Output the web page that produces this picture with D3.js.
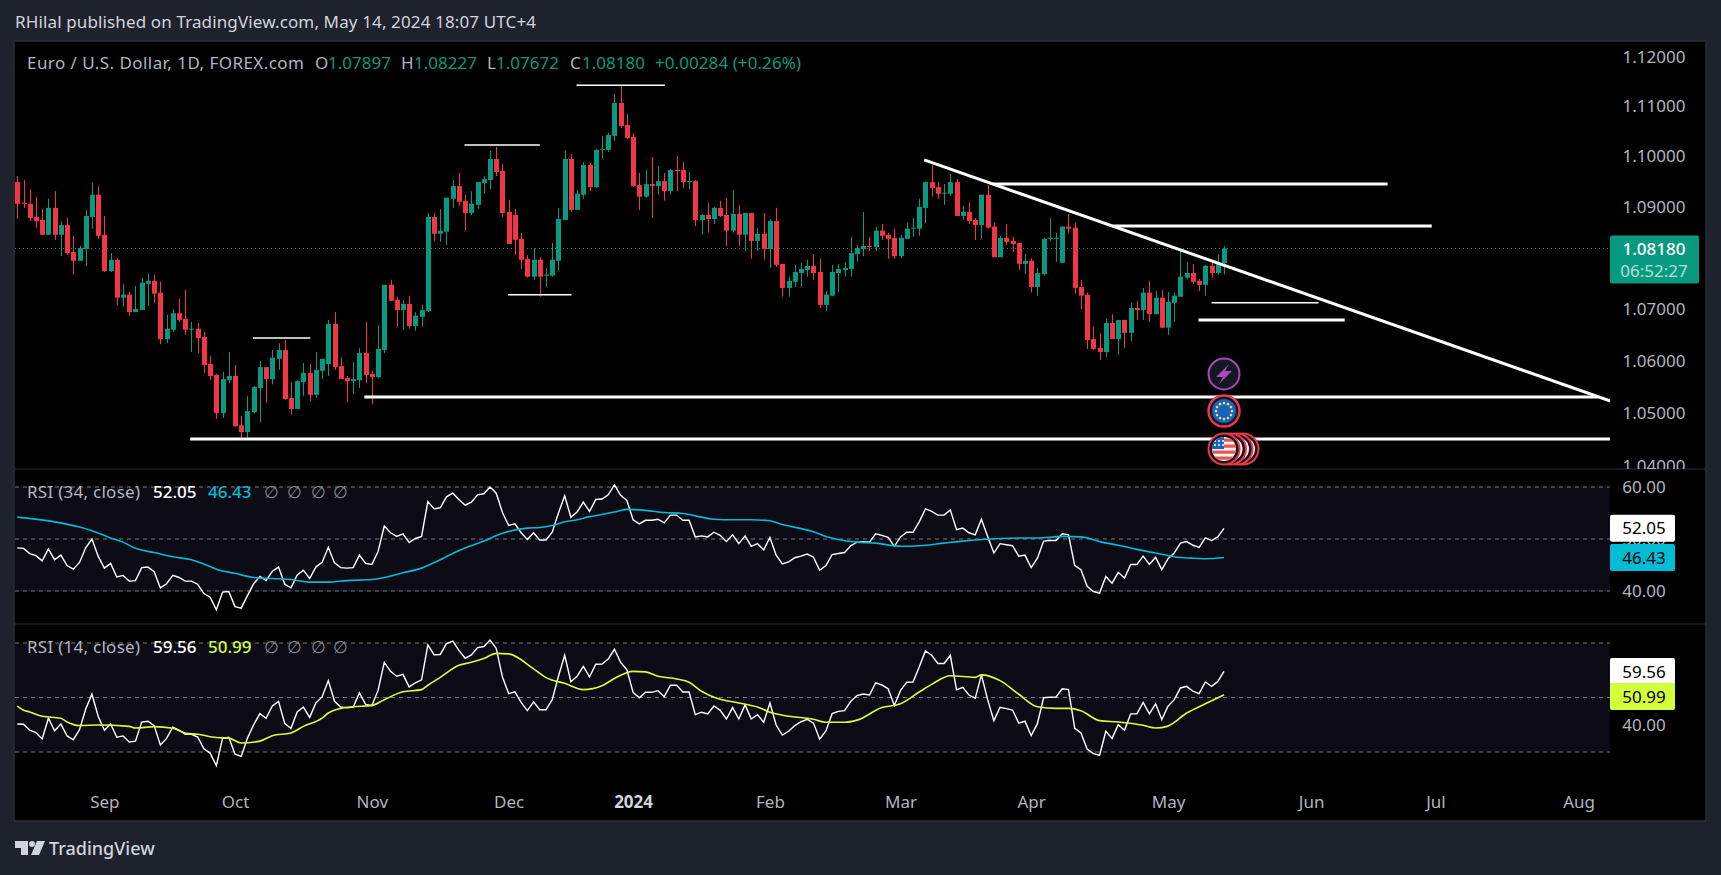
<!DOCTYPE html>
<html>
<head>
<meta charset="utf-8">
<title>EUR/USD 1D</title>
<script src="https://cdn.jsdelivr.net/npm/d3@7"></script>
<style>
  html, body { margin: 0; padding: 0; background: #1e222d; overflow: hidden; }
  text { font-family: "Noto Sans", sans-serif; }
</style>
</head>
<body>
<div id="plt"></div>
<script>
// daily candles, one value per bar
var opens = [
1.0949,1.0908,1.0906,1.0880,1.0874,1.0845,1.0898,1.0845,1.0864,1.0811,
1.0794,1.0817,1.0880,1.0924,1.0845,1.0774,1.0796,1.0722,1.0728,1.0694,
1.0698,1.0749,1.0755,1.0732,1.0642,1.0660,1.0692,1.0681,1.0660,1.0662,
1.0646,1.0594,1.0573,1.0500,1.0563,1.0571,1.0477,1.0464,1.0502,1.0548,
1.0588,1.0565,1.0604,1.0621,1.0529,1.0508,1.0559,1.0577,1.0535,1.0581,
1.0594,1.0671,1.0590,1.0567,1.0561,1.0563,1.0615,1.0575,1.0569,1.0621,
1.0747,1.0718,1.0698,1.0710,1.0667,1.0685,1.0696,1.0880,1.0847,1.0851,
1.0916,1.0941,1.0912,1.0888,1.0904,1.0947,1.0953,1.0995,1.0971,1.0890,
1.0884,1.0837,1.0798,1.0763,1.0796,1.0765,1.0765,1.0794,1.0874,1.0995,
1.0894,1.0924,1.0983,1.0939,1.1013,1.1013,1.1041,1.1107,1.1063,1.1039,
1.0943,1.0920,1.0945,1.0941,1.0951,1.0931,1.0973,1.0973,1.0949,1.0951,
1.0874,1.0884,1.0876,1.0898,1.0884,1.0853,1.0886,1.0845,1.0888,1.0833,
1.0847,1.0817,1.0872,1.0788,1.0741,1.0753,1.0770,1.0776,1.0784,1.0772,
1.0708,1.0726,1.0770,1.0776,1.0778,1.0807,1.0817,1.0823,1.0821,1.0853,
1.0845,1.0839,1.0803,1.0837,1.0857,1.0857,1.0898,1.0949,1.0939,1.0926,
1.0926,1.0949,1.0882,1.0890,1.0874,1.0864,1.0924,1.0861,1.0801,1.0839,
1.0833,1.0829,1.0788,1.0794,1.0743,1.0768,1.0837,1.0837,1.0790,1.0861,
1.0859,1.0743,1.0728,1.0642,1.0625,1.0617,1.0673,1.0642,1.0679,1.0654,
1.0702,1.0698,1.0732,1.0690,1.0722,1.0664,1.0712,1.0724,1.0761,1.0770,
1.0755,1.0747,1.0784,1.0770,1.07897];
var highs = [
1.0961,1.0953,1.0935,1.0920,1.0896,1.0916,1.0931,1.0872,1.0878,1.0843,
1.0823,1.0894,1.0947,1.0941,1.0882,1.0809,1.0799,1.0749,1.0733,1.0745,
1.0761,1.0770,1.0767,1.0753,1.0689,1.0700,1.0720,1.0737,1.0675,1.0673,
1.0656,1.0609,1.0575,1.0579,1.0617,1.0592,1.0495,1.0533,1.0552,1.0600,
1.0588,1.0621,1.0634,1.0640,1.0559,1.0563,1.0596,1.0594,1.0617,1.0604,
1.0679,1.0694,1.0607,1.0571,1.0598,1.0625,1.0675,1.0581,1.0669,1.0747,
1.0757,1.0724,1.0718,1.0726,1.0694,1.0708,1.0888,1.0888,1.0896,1.0918,
1.0953,1.0967,1.0924,1.0931,1.0949,1.0961,1.1011,1.1019,1.0985,1.0914,
1.0896,1.0849,1.0805,1.0819,1.0801,1.0780,1.0829,1.0898,1.1011,1.1005,
1.0933,1.0989,1.0987,1.1015,1.1041,1.1047,1.1125,1.1141,1.1085,1.1047,
1.0967,1.0973,1.0999,1.0981,1.0967,1.0975,1.1001,1.0989,1.0969,1.0953,
1.0886,1.0908,1.0900,1.0912,1.0918,1.0933,1.0904,1.0888,1.0888,1.0859,
1.0888,1.0876,1.0898,1.0788,1.0763,1.0786,1.0790,1.0796,1.0807,1.0799,
1.0735,1.0786,1.0788,1.0790,1.0841,1.0825,1.0890,1.0841,1.0861,1.0866,
1.0849,1.0857,1.0845,1.0868,1.0878,1.0916,1.0951,1.0983,1.0949,1.0945,
1.0965,1.0955,1.0902,1.0908,1.0878,1.0924,1.0943,1.0868,1.0843,1.0866,
1.0841,1.0829,1.0807,1.0799,1.0780,1.0839,1.0878,1.0849,1.0862,1.0886,
1.0868,1.0757,1.0732,1.0666,1.0654,1.0681,1.0690,1.0679,1.0679,1.0712,
1.0716,1.0741,1.0755,1.0735,1.0737,1.0733,1.0732,1.0813,1.0792,1.0788,
1.0759,1.0786,1.0792,1.0807,1.08227];
var lows = [
1.0876,1.0898,1.0872,1.0859,1.0845,1.0845,1.0835,1.0803,1.0805,1.0767,
1.0794,1.0784,1.0857,1.0837,1.0772,1.0772,1.0708,1.0704,1.0687,1.0694,
1.0698,1.0706,1.0712,1.0632,1.0634,1.0656,1.0675,1.0650,1.0617,1.0615,
1.0577,1.0563,1.0489,1.0491,1.0557,1.0475,1.0449,1.0451,1.0500,1.0483,
1.0519,1.0555,1.0583,1.0525,1.0497,1.0508,1.0533,1.0523,1.0529,1.0565,
1.0571,1.0583,1.0565,1.0521,1.0537,1.0548,1.0557,1.0517,1.0567,1.0615,
1.0716,1.0666,1.0660,1.0662,1.0658,1.0666,1.0694,1.0833,1.0831,1.0825,
1.0898,1.0902,1.0853,1.0884,1.0896,1.0926,1.0935,1.0961,1.0880,1.0827,
1.0805,1.0778,1.0761,1.0757,1.0724,1.0743,1.0763,1.0774,1.0874,1.0890,
1.0894,1.0916,1.0931,1.0937,1.0995,1.1009,1.1031,1.1057,1.1035,1.0939,
1.0894,1.0918,1.0878,1.0924,1.0912,1.0924,1.0931,1.0937,1.0935,1.0862,
1.0845,1.0849,1.0866,1.0880,1.0823,1.0849,1.0823,1.0813,1.0798,1.0813,
1.0796,1.0780,1.0782,1.0724,1.0724,1.0743,1.0743,1.0763,1.0757,1.0702,
1.0696,1.0726,1.0733,1.0763,1.0763,1.0792,1.0803,1.0813,1.0813,1.0835,
1.0798,1.0798,1.0799,1.0837,1.0841,1.0843,1.0868,1.0920,1.0916,1.0904,
1.0922,1.0882,1.0874,1.0866,1.0835,1.0837,1.0857,1.0801,1.0801,1.0825,
1.0811,1.0776,1.0768,1.0732,1.0726,1.0765,1.0833,1.0792,1.0790,1.0849,
1.0730,1.0700,1.0623,1.0621,1.0602,1.0607,1.0642,1.0611,1.0625,1.0638,
1.0679,1.0679,1.0675,1.0690,1.0664,1.0650,1.0675,1.0724,1.0757,1.0749,
1.0735,1.0726,1.0761,1.0767,1.07672];
var closes = [
1.0906,1.0906,1.0878,1.0872,1.0845,1.0898,1.0845,1.0864,1.0809,1.0794,
1.0819,1.0882,1.0924,1.0843,1.0774,1.0796,1.0722,1.0728,1.0694,1.0700,
1.0751,1.0755,1.0730,1.0642,1.0662,1.0692,1.0679,1.0660,1.0662,1.0644,
1.0592,1.0571,1.0500,1.0565,1.0571,1.0475,1.0464,1.0504,1.0550,1.0588,
1.0565,1.0606,1.0621,1.0527,1.0508,1.0561,1.0577,1.0535,1.0583,1.0604,
1.0671,1.0588,1.0565,1.0561,1.0565,1.0615,1.0573,1.0569,1.0623,1.0747,
1.0716,1.0698,1.0710,1.0667,1.0687,1.0698,1.0880,1.0847,1.0853,1.0918,
1.0941,1.0910,1.0888,1.0906,1.0949,1.0955,1.0995,1.0969,1.0888,1.0827,
1.0835,1.0796,1.0763,1.0796,1.0763,1.0767,1.0796,1.0876,1.0995,1.0894,
1.0926,1.0983,1.0939,1.1013,1.1015,1.1043,1.1107,1.1061,1.1037,1.0941,
1.0920,1.0945,1.0941,1.0951,1.0931,1.0973,1.0971,1.0949,1.0951,1.0874,
1.0884,1.0876,1.0898,1.0882,1.0853,1.0886,1.0845,1.0888,1.0833,1.0847,
1.0817,1.0872,1.0786,1.0741,1.0755,1.0772,1.0778,1.0784,1.0770,1.0708,
1.0728,1.0772,1.0778,1.0780,1.0809,1.0819,1.0823,1.0821,1.0853,1.0843,
1.0837,1.0803,1.0839,1.0857,1.0859,1.0900,1.0949,1.0937,1.0926,1.0928,
1.0949,1.0882,1.0890,1.0872,1.0864,1.0924,1.0859,1.0801,1.0839,1.0831,
1.0827,1.0788,1.0794,1.0743,1.0770,1.0837,1.0839,1.0839,1.0861,1.0857,
1.0741,1.0726,1.0640,1.0623,1.0617,1.0673,1.0642,1.0679,1.0654,1.0702,
1.0698,1.0732,1.0690,1.0722,1.0664,1.0714,1.0726,1.0763,1.0770,1.0753,
1.0747,1.0784,1.0770,1.0790,1.08180];

// RSI (34) and its average
var rsi34 = [
48.3,48.2,47.2,46.8,45.8,48.1,46.0,46.9,44.9,44.2,
45.5,48.3,50.0,46.7,44.4,45.3,42.7,43.0,41.9,42.0,
44.5,44.6,43.7,40.6,41.4,43.0,42.6,41.9,41.9,41.3,
39.5,38.8,36.4,39.8,39.9,37.0,36.7,39.1,41.4,42.8,
42.0,43.8,44.6,41.3,40.6,43.1,44.0,42.4,44.6,45.5,
48.4,45.4,44.5,44.4,44.5,46.9,45.3,45.1,47.6,52.5,
51.2,50.5,51.0,49.3,50.1,50.5,57.2,55.8,56.0,58.1,
58.8,57.6,56.5,57.1,58.5,58.7,60.0,58.8,55.1,52.6,
52.9,51.2,49.9,51.2,49.8,49.8,51.3,55.0,58.3,54.2,
55.2,57.1,55.3,57.6,57.7,58.5,60.4,58.4,57.4,53.7,
52.9,53.6,53.6,53.8,53.1,54.6,54.6,53.6,53.6,50.4,
50.6,50.4,51.3,50.7,49.5,50.8,49.1,50.6,48.6,49.1,
47.9,50.3,46.9,45.2,45.6,46.4,46.7,47.1,46.5,44.0,
44.9,47.0,47.2,47.4,48.7,49.4,49.5,49.4,51.0,50.7,
50.3,48.6,50.4,51.3,51.3,53.3,55.8,55.3,54.6,54.6,
55.6,51.8,52.1,51.2,50.8,53.8,50.5,47.3,49.1,48.9,
48.7,46.7,46.9,44.5,46.3,49.6,49.7,49.7,51.0,50.8,
44.9,44.1,40.9,39.9,39.6,42.8,41.5,43.6,42.5,45.1,
45.1,46.7,45.1,46.5,44.1,46.2,47.3,49.2,49.5,48.8,
48.4,50.2,49.7,50.4,52.05];
var rsi34MaBars = [0,6,10,12,15,17,19,22,25,28,30,32,35,38,41,44,47,50,53,57,59,62,65,68,71,75,78,82,84,86,88,90,92,94,96,98,101,104,107,110,112,115,118,121,123,126,128,130,132,135,138,142,145,149,152,155,158,161,164,168,171,174,177,180,183,186,189,191,194];
var rsi34Ma = [54.2,53.3,52.3,51.6,50.2,49.4,48.2,47.4,46.6,46.0,45.2,44.2,43.4,42.6,42.4,42.2,41.7,41.7,42.0,42.2,42.6,43.5,44.4,46.0,47.8,49.6,51.1,52.1,52.2,52.6,53.3,53.7,54.3,54.7,55.2,55.7,55.5,55.1,54.9,54.2,53.8,53.7,53.7,53.5,52.8,52.0,51.4,50.5,49.9,49.4,49.2,48.6,48.7,49.2,49.6,49.9,50.1,50.2,50.2,50.5,50.4,49.5,48.8,48.0,47.3,46.6,46.3,46.2,46.43];

// RSI (14) and its average
var rsi14 = [
40.3,40.2,38.0,37.1,34.8,42.4,37.8,40.3,35.9,34.5,
38.2,45.8,51.2,43.1,38.0,40.3,35.4,35.9,33.7,34.0,
41.0,41.3,39.7,32.6,35.0,39.1,38.0,36.5,36.5,35.5,
31.2,29.6,25.0,35.0,35.4,29.2,28.4,35.1,40.0,44.1,
42.4,46.9,48.6,40.4,38.7,44.7,46.5,42.7,48.0,50.2,
56.2,48.6,46.5,46.2,46.5,51.7,47.5,47.0,52.6,62.9,
59.6,57.8,58.5,53.9,55.4,56.5,69.3,65.7,65.8,69.8,
70.7,67.3,64.4,65.6,68.3,68.7,71.1,68.0,57.5,51.4,
52.1,48.2,45.2,48.4,45.5,45.5,49.2,57.8,65.5,55.8,
57.8,61.4,57.6,62.2,62.3,64.1,67.7,62.9,60.2,51.9,
49.9,51.9,51.9,52.5,50.3,54.5,54.5,52.0,52.0,43.7,
44.6,44.0,46.9,45.3,42.1,46.3,42.1,47.3,42.1,43.7,
40.9,48.0,39.9,36.2,37.6,39.7,41.1,42.0,40.6,34.7,
37.7,44.1,44.9,45.2,48.6,50.7,51.3,50.9,55.4,54.6,
53.2,47.1,52.6,55.6,55.7,61.2,67.1,65.5,62.5,62.5,
65.5,52.8,53.7,50.9,49.7,58.3,49.2,41.5,46.4,45.9,
45.4,40.6,41.3,36.0,40.4,49.9,50.1,50.2,53.2,52.9,
38.7,37.0,31.1,29.4,28.8,37.6,35.0,40.0,38.0,44.0,
44.0,48.2,44.0,47.7,41.9,46.8,49.2,53.5,54.1,52.3,
51.4,55.7,54.1,55.9,59.56];
var rsi14MaBars = [0,1,2,4,7,8,10,13,18,19,22,25,27,29,32,34,36,39,41,44,46,49,50,52,54,57,59,62,65,66,68,71,73,75,77,79,83,85,88,91,94,96,99,101,103,106,108,110,112,116,119,121,123,128,130,133,135,139,142,145,147,150,154,155,158,161,164,167,169,171,174,177,181,183,185,188,191,194];
var rsi14Ma = [46.8,45.3,44.7,43.1,42.4,41.0,39.7,39.9,39.4,38.8,39.3,38.7,37.0,36.5,35.3,35.1,33.3,34.0,36.0,37.0,39.4,42.4,44.3,46.0,46.6,47.1,49.2,52.1,52.9,54.5,57.4,61.8,62.9,64.3,66.2,66.0,60.5,57.3,55.2,52.9,54.3,57.0,59.6,59.4,57.8,56.8,55.6,52.3,50.1,48.0,46.5,44.6,43.5,42.0,40.9,40.9,41.7,46.3,47.7,52.0,54.8,58.0,57.4,58.3,56.2,51.2,46.6,46.0,46.0,45.1,41.5,41.0,39.8,38.8,39.5,44.3,47.7,50.99];

// hand drawn levels: bar where they start and stop, and price
var heavyFrom = [156.9,176.1,189.9,55.8,27.8];
var heavyTo = [220.3,227.4,213.4,254.2,256.2];
var heavyPrice = [1.0945,1.0862,1.0679,1.0531,1.0451];
var lightFrom = [37.9,71.9,89.9,78.9,192.0];
var lightTo = [47.1,84.0,104.1,89.1,209.2];
var lightPrice = [1.0644,1.1023,1.1143,1.0728,1.0712];
var trendBars = [145.8,256.2];
var trendPrices = [1.0993,1.0523];

// axis labels (the rest sit hidden behind the value boxes in the reference)
var priceTicks = [1.12,1.11,1.10,1.09,1.07,1.06,1.05,1.04];
var rsi34Ticks = [60,50,40];
var rsi14Ticks = [40];
var rsi34Bands = [60,50,40];
var rsi14Bands = [70,50,30];
var timeLabels = ["Sep","Oct","Nov","Dec","2024","Feb","Mar","Apr","May","Jun","Jul","Aug"];
var timeBars = [14,35,57,79,99,121,142,163,185,208,228,251];

// colours
var upColor = "#089981", downColor = "#f23645", axisColor = "#b2b5be",
    rsiMaColor = "#00bcd4", rsi14MaColor = "#d4ff3b", bandFill = "#0c0a15", lineColor = "#2a2e39";

// pane layout
var W = 1721, H = 875;
var frame = {left: 15, right: 1610, outer: 1706, top: 41, bottom: 821};
var lastBar = closes.length - 1;

var svg = d3.select("#plt")
            .append("svg")
            .attr("width", W)
            .attr("height", H)
            .style("display", "block");

svg.append("rect").attr("width", W).attr("height", H).attr("fill", "#1e222d");
svg.append("rect")
   .attr("x", 14).attr("y", 41).attr("width", frame.outer - 14).attr("height", frame.bottom - 41)
   .attr("fill", "#000").attr("stroke", lineColor).attr("stroke-width", 1.5);

svg.append("clipPath").attr("id", "mainClip").append("rect")
   .attr("x", frame.left).attr("y", frame.top).attr("width", frame.right - frame.left).attr("height", 428);
svg.append("clipPath").attr("id", "priceClip").append("rect")
   .attr("x", frame.right).attr("y", frame.top).attr("width", 96).attr("height", 428);

// scales
var x = d3.scaleLinear().domain([0, lastBar]).range([17.3, 1224]);
var y = d3.scaleLog().domain([1.04, 1.12]).range([466, 57]);
var yRsi34 = d3.scaleLinear().domain([40, 60]).range([591, 487]);
var yRsi14 = d3.scaleLinear().domain([30, 70]).range([752, 643]);

// pane separators
svg.selectAll("line.sep")
   .data([469, 624])
   .enter().append("line")
   .attr("x1", frame.left).attr("x2", frame.outer)
   .attr("y1", function(d) { return d; }).attr("y2", function(d) { return d; })
   .attr("stroke", lineColor).attr("stroke-width", 1);

// candles
var main = svg.append("g").attr("clip-path", "url(#mainClip)");
var bars = d3.range(closes.length);

main.selectAll("line.wick")
    .data(bars)
    .enter().append("line")
    .attr("x1", function(d) { return Math.round(x(d)) + 0.5; })
    .attr("x2", function(d) { return Math.round(x(d)) + 0.5; })
    .attr("y1", function(d) { return y(highs[d]); })
    .attr("y2", function(d) { return y(lows[d]); })
    .attr("stroke", function(d) { return closes[d] >= opens[d] ? upColor : downColor; })
    .attr("stroke-width", 1);

main.selectAll("rect.body")
    .data(bars)
    .enter().append("rect")
    .attr("x", function(d) { return Math.round(x(d)) - 2; })
    .attr("width", 5)
    .attr("y", function(d) { return y(Math.max(opens[d], closes[d])); })
    .attr("height", function(d) { return Math.max(1, Math.abs(y(opens[d]) - y(closes[d]))); })
    .attr("fill", function(d) { return closes[d] >= opens[d] ? upColor : downColor; });

// last price line
main.append("line")
    .attr("x1", frame.left).attr("x2", frame.right)
    .attr("y1", y(closes[lastBar])).attr("y2", y(closes[lastBar]))
    .attr("stroke", upColor).attr("stroke-width", 1).attr("stroke-dasharray", "1,3");

// drawn levels and trend line
function levels(from, to, price, width) {
  main.selectAll(null)
      .data(d3.range(price.length))
      .enter().append("line")
      .attr("x1", function(d) { return x(from[d]); })
      .attr("x2", function(d) { return x(to[d]); })
      .attr("y1", function(d) { return y(price[d]); })
      .attr("y2", function(d) { return y(price[d]); })
      .attr("stroke", "#fff").attr("stroke-width", width);
}
levels(heavyFrom, heavyTo, heavyPrice, 3);
levels(lightFrom, lightTo, lightPrice, 1.5);

main.append("line")
    .attr("x1", x(trendBars[0])).attr("x2", x(trendBars[1]))
    .attr("y1", y(trendPrices[0])).attr("y2", y(trendPrices[1]))
    .attr("stroke", "#fff").attr("stroke-width", 3);

// event markers
var eventPrices = [1.0575, 1.0504, 1.0432];
var eventBars = [194, 194, 194];
var usOffsets = [19, 13, 6.5];

function marker(px, py, ringColor) {
  var g = svg.append("g").attr("transform", "translate(" + px + "," + py + ")");
  g.append("circle").attr("r", 15.5).attr("fill", "#131722").attr("stroke", ringColor).attr("stroke-width", 2);
  return g;
}

var bolt = marker(x(eventBars[0]), y(eventPrices[0]), "#ab47bc");
bolt.append("path").attr("d", "M5,-10 L-8,3 L-1,3 L-5,10 L8,-3 L1,-3 Z").attr("fill", "#ab47bc");

var euro = marker(x(eventBars[1]), y(eventPrices[1]), downColor);
euro.select("circle").attr("stroke-width", 2.5);
euro.append("circle").attr("r", 12).attr("fill", "#1565c0");
euro.selectAll("circle.star")
    .data(d3.range(12))
    .enter().append("circle")
    .attr("r", 1.3)
    .attr("cx", function(d) { return 8 * Math.cos(d * Math.PI / 6); })
    .attr("cy", function(d) { return 8 * Math.sin(d * Math.PI / 6); })
    .attr("fill", "#ffd54f");

usOffsets.forEach(function(dx) {
  var back = marker(x(eventBars[2]) + dx, y(eventPrices[2]), downColor);
  back.append("circle").attr("r", 12).attr("fill", "#f5f5f5");
});
var usa = marker(x(eventBars[2]), y(eventPrices[2]), downColor);
svg.append("clipPath").attr("id", "flagClip").append("circle").attr("r", 12);
var flag = usa.append("g").attr("clip-path", "url(#flagClip)");
flag.append("rect").attr("x", -12).attr("y", -12).attr("width", 24).attr("height", 24).attr("fill", "#f5f5f5");
[-9, -3, 3, 9].forEach(function(sy) {
  flag.append("rect").attr("x", -12).attr("y", sy - 1.5).attr("width", 24).attr("height", 3.2).attr("fill", "#ef5350");
});
flag.append("rect").attr("x", -12).attr("y", -12).attr("width", 12).attr("height", 12).attr("fill", "#1565c0");
[-9, -5, -1].forEach(function(px) {
  [-8, -4].forEach(function(py) {
    flag.append("circle").attr("cx", px).attr("cy", py).attr("r", 1).attr("fill", "#fff");
  });
});

// RSI panes
function rsiPane(scale, bands, values, maBars, ma, maColor, ticks) {
  svg.append("rect")
     .attr("x", frame.left).attr("width", frame.right - frame.left)
     .attr("y", scale(bands[0])).attr("height", scale(bands[2]) - scale(bands[0]))
     .attr("fill", bandFill);

  svg.selectAll(null)
     .data(bands)
     .enter().append("line")
     .attr("x1", frame.left).attr("x2", frame.right)
     .attr("y1", function(d) { return scale(d); })
     .attr("y2", function(d) { return scale(d); })
     .attr("stroke", "#787b86").attr("stroke-width", 1).attr("stroke-dasharray", "4,4");

  var line = d3.line()
               .x(function(d, i) { return x(i); })
               .y(function(d) { return scale(d); });
  svg.append("path").datum(values)
     .attr("d", line).attr("fill", "none").attr("stroke", "#fff").attr("stroke-width", 1.4);

  var maLine = d3.line()
                 .x(function(d, i) { return x(maBars[i]); })
                 .y(function(d) { return scale(d); })
                 .curve(d3.curveMonotoneX);
  svg.append("path").datum(ma)
     .attr("d", maLine).attr("fill", "none").attr("stroke", maColor).attr("stroke-width", 1.6);

  var axis = svg.append("g")
                .attr("transform", "translate(" + frame.right + ",0)")
                .call(d3.axisRight(scale).tickValues(ticks).tickSize(0).tickFormat(d3.format(".2f")));
  axis.select(".domain").remove();
  axis.selectAll("text")
      .attr("x", 34).attr("text-anchor", "middle")
      .attr("fill", axisColor).style("font-size", "17px");

  // value boxes at the right edge, the second one pushed down if they touch
  var top1 = scale(values[lastBar]) - 13.5;
  var top2 = Math.max(scale(ma[ma.length - 1]) - 13.5, top1 + 25);
  [[top1, "#fff", values[lastBar]], [top2, maColor, ma[ma.length - 1]]].forEach(function(b) {
    svg.append("rect")
       .attr("x", frame.right).attr("y", b[0]).attr("width", 65).attr("height", 27)
       .attr("rx", 2).attr("fill", b[1]);
    svg.append("text")
       .attr("x", 1644).attr("y", b[0] + 13.5).attr("dy", "0.36em")
       .attr("text-anchor", "middle").attr("fill", "#000")
       .style("font-size", "17px").text(d3.format(".2f")(b[2]));
  });
}
rsiPane(yRsi34, rsi34Bands, rsi34, rsi34MaBars, rsi34Ma, rsiMaColor, rsi34Ticks);
rsiPane(yRsi14, rsi14Bands, rsi14, rsi14MaBars, rsi14Ma, rsi14MaColor, rsi14Ticks);

// price axis
var priceAxis = svg.append("g")
                   .attr("clip-path", "url(#priceClip)")
                   .append("g")
                   .attr("transform", "translate(" + frame.right + ",0)")
                   .call(d3.axisRight(y).tickValues(priceTicks).tickSize(0).tickFormat(d3.format(".5f")));
priceAxis.select(".domain").remove();
priceAxis.selectAll("text")
         .attr("x", 44).attr("text-anchor", "middle")
         .attr("fill", axisColor).style("font-size", "17px");

// last price box
svg.append("rect")
   .attr("x", frame.right).attr("y", y(closes[lastBar]) - 13).attr("width", 89).attr("height", 48)
   .attr("rx", 2).attr("fill", upColor);
svg.append("text").attr("x", 1654).attr("y", y(closes[lastBar])).attr("dy", "0.36em")
   .attr("text-anchor", "middle").attr("fill", "#fff").style("font-size", "17px").style("font-weight", 500)
   .text("1.08180");
svg.append("text").attr("x", 1654).attr("y", y(closes[lastBar]) + 22).attr("dy", "0.36em")
   .attr("text-anchor", "middle").attr("fill", "#fff").attr("fill-opacity", 0.7).style("font-size", "17px")
   .text("06:52:27");

// time axis
var timeAxis = svg.append("g")
                  .attr("transform", "translate(0,796)")
                  .call(d3.axisBottom(x).tickValues(timeBars).tickSize(0).tickPadding(0)
                          .tickFormat(function(d, i) { return timeLabels[i]; }));
timeAxis.select(".domain").remove();
timeAxis.selectAll("text")
        .attr("fill", function(d, i) { return timeLabels[i] === "2024" ? "#d1d4dc" : axisColor; })
        .style("font-weight", function(d, i) { return timeLabels[i] === "2024" ? 700 : 400; })
        .style("font-size", "17px");

// top legend
function label(px, py, txt, color, size, fitWidth) {
  var t = svg.append("text").attr("x", px).attr("y", py).attr("fill", color)
             .style("font-size", (size || 17) + "px").text(txt);
  if (fitWidth) t.attr("textLength", fitWidth).attr("lengthAdjust", "spacing");
  return t;
}
label(15, 28, "RHilal published on TradingView.com, May 14, 2024 18:07 UTC+4", "#d1d4dc", 17, 521);
label(27, 69, "Euro / U.S. Dollar, 1D, FOREX.com", axisColor, 17, 277);
label(315, 69, "O", axisColor); label(328, 69, "1.07897", upColor);
label(401, 69, "H", axisColor); label(414, 69, "1.08227", upColor);
label(487, 69, "L", axisColor); label(496, 69, "1.07672", upColor);
label(570, 69, "C", axisColor); label(582, 69, "1.08180", upColor);
label(655, 69, "+0.00284 (+0.26%)", upColor, 17, 146);

// RSI legends
function rsiLegend(py, title, v1, v2, color) {
  label(27, py, title, axisColor, 17, 113);
  label(153, py, v1, "#fff").style("font-weight", 500);
  label(208, py, v2, color).style("font-weight", 500);
  [264, 287, 311, 333].forEach(function(px) { label(px, py, "\u2205", "#868993"); });
}
rsiLegend(498, "RSI (34, close)", "52.05", "46.43", rsiMaColor);
rsiLegend(653, "RSI (14, close)", "59.56", "50.99", rsi14MaColor);

// logo
var logo = svg.append("g").attr("fill", "#d1d4dc");
logo.append("path").attr("d", "M15 841 H28 V855 H21 V848 H15 Z");
logo.append("circle").attr("cx", 32).attr("cy", 844).attr("r", 3);
logo.append("path").attr("d", "M37 841 H45 L39 855 H31 Z");
label(49, 855, "TradingView", "#d1d4dc", 18).style("font-weight", 500);
</script>
</body>
</html>
